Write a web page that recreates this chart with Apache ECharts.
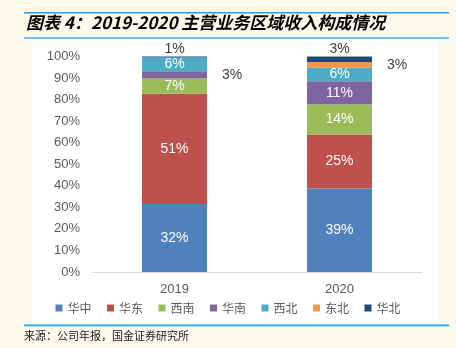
<!DOCTYPE html>
<html>
<head>
<meta charset="utf-8">
<script src="https://cdn.jsdelivr.net/npm/echarts@6/dist/echarts.min.js"></script>
<style>
html,body{margin:0;padding:0;background:#FDF8EC;}
#main{width:456px;height:348px;}
</style>
</head>
<body>
<div id="main"></div>
<script>
const categories = ['2019', '2020'];
const seriesNames = ['华中', '华东', '西南', '华南', '西北', '东北', '华北'];
const seriesColors = ['#4F81BD', '#C0504D', '#9BBB59', '#8064A2', '#4BACC6', '#F79646', '#1F497D'];
const valHuazhong = [31.6, 38.7];
const valHuadong = [51.1, 25.1];
const valXinan = [7.1, 14.1];
const valHuanan = [3.3, 10.6];
const valXibei = [6.4, 6.3];
const valDongbei = [0, 2.7];
const valHuabei = [0.5, 2.5];
const yTicks = ['0%','10%','20%','30%','40%','50%','60%','70%','80%','90%','100%'];
const titleText = '图表 4：2019-2020 主营业务区域收入构成情况';
const sourceText = '来源：公司年报，国金证券研究所';

const allValues = [valHuazhong, valHuadong, valXinan, valHuanan, valXibei, valDongbei, valHuabei];
// label placement per series, per category
const labelPos = [
  ['inside', 'inside'],
  ['inside', 'inside'],
  ['inside', 'inside'],
  ['right', 'inside'],
  ['inside', 'inside'],
  ['right', 'right'],
  ['top', 'top']
];

const FONT = '"Liberation Sans", Arial, sans-serif';
const CJK = '"Noto Sans CJK SC", sans-serif';

function labelFor(pos) {
  return {
    show: true,
    position: pos,
    distance: pos === 'right' ? 15 : (pos === 'top' ? 0 : 5),
    color: pos === 'inside' ? '#FFFFFF' : '#404040',
    fontSize: 14,
    fontFamily: FONT,
    formatter: p => p.value > 0 ? Math.round(p.value) + '%' : ''
  };
}

const series = seriesNames.map((name, i) => ({
  name: name,
  type: 'bar',
  stack: 'total',
  barWidth: 65,
  itemStyle: { color: seriesColors[i] },
  data: allValues[i].map((v, j) => ({ value: v, label: labelFor(labelPos[i][j]) }))
}));

const chart = echarts.init(document.getElementById('main'), null, {renderer: 'canvas'});
chart.setOption({
  backgroundColor: '#FDF8EC',
  animation: false,
  graphic: [
    { type: 'rect', shape: { x: 32, y: 39, width: 407, height: 285 }, style: { fill: '#FFFFFF' }, z: -10 },
    { type: 'rect', shape: { x: 24, y: 12, width: 425, height: 1.5 }, style: { fill: '#19A2E6' } },
    { type: 'rect', shape: { x: 24, y: 37, width: 425, height: 2 }, style: { fill: '#6CC4EE' } },
    { type: 'rect', shape: { x: 24, y: 324.5, width: 425, height: 1.8 }, style: { fill: '#1FA7E6' } },
    { type: 'text', left: 26, top: 14, style: { text: titleText, fill: '#000000', font: 'italic bold 17px ' + CJK } },
    { type: 'text', left: 24, top: 330, style: { text: sourceText, fill: '#222222', font: '11px ' + CJK } }
  ],
  grid: { left: 92, right: 34, top: 56.5, bottom: 76, containLabel: false },
  legend: {
    data: seriesNames,
    bottom: 29,
    left: 'center',
    itemWidth: 7,
    itemHeight: 7,
    itemGap: 15.5,
    icon: 'rect',
    textStyle: { color: '#595959', fontSize: 12, fontFamily: CJK }
  },
  xAxis: {
    type: 'category',
    data: categories,
    axisLine: { lineStyle: { color: '#D9D9D9', width: 1 } },
    axisTick: { show: false },
    axisLabel: { color: '#595959', fontSize: 13, fontFamily: FONT, margin: 11 }
  },
  yAxis: {
    type: 'value',
    min: 0,
    max: 100,
    interval: 10,
    axisLine: { show: false },
    axisTick: { show: false },
    splitLine: { show: false },
    axisLabel: {
      color: '#595959', fontSize: 13, fontFamily: FONT, margin: 12,
      formatter: v => yTicks[Math.round(v / 10)]
    }
  },
  series: series
});
</script>
</body>
</html>
